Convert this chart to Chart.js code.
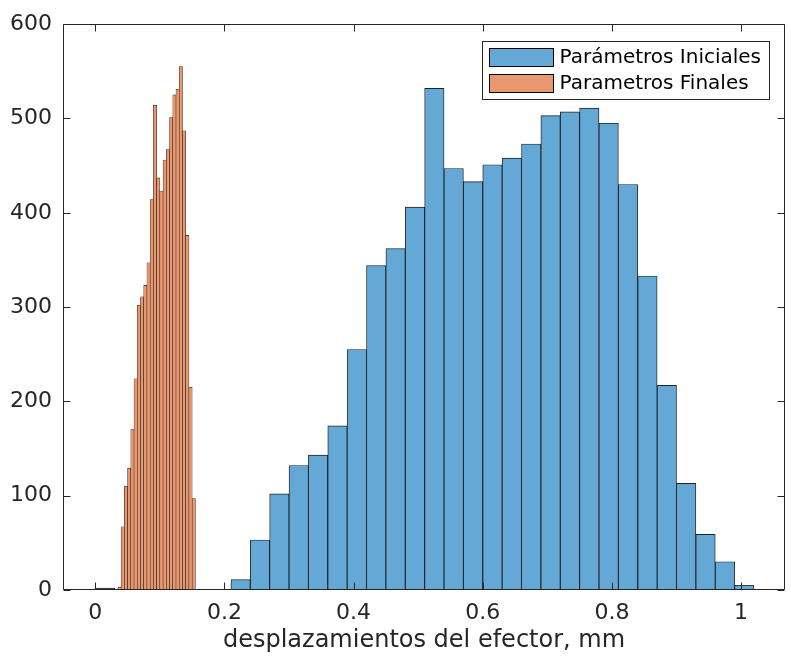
<!DOCTYPE html>
<html>
<head>
<meta charset="utf-8">
<script src="https://cdn.jsdelivr.net/npm/chart.js@4/dist/chart.umd.min.js"></script>
<style>
  html, body { margin: 0; padding: 0; background: #ffffff; }
  #wrap { width: 791px; height: 663px; }
</style>
</head>
<body>
<div id="wrap"><canvas id="c" width="791" height="663"></canvas></div>
<script>
// Histogram of end-effector displacement, before and after parameter tuning.
const initialLabel = 'Parámetros Iniciales';
const finalLabel = 'Parametros Finales';
const xTitle = 'desplazamientos del efector, mm';

// Initial parameters: bins of width 0.03 (left edges) and counts
const initialBinWidth = 0.03;
const initialEdges = [0, 0.03, 0.06, 0.09, 0.12, 0.15, 0.18, 0.21, 0.24, 0.27,
  0.30, 0.33, 0.36, 0.39, 0.42, 0.45, 0.48, 0.51, 0.54, 0.57, 0.60, 0.63, 0.66,
  0.69, 0.72, 0.75, 0.78, 0.81, 0.84, 0.87, 0.90, 0.93, 0.96, 0.99];
const initialCounts = [2, 0, 0, 0, 0, 0, 0, 11, 53, 102, 132, 143, 174, 255, 344,
  362, 406, 532, 447, 433, 451, 458, 473, 503, 507, 511, 495, 430, 333, 217, 113,
  59, 30, 5];

// Final parameters: bins of width 0.005 (left edges) and counts
const finalBinWidth = 0.005;
const finalEdges = [0.035, 0.04, 0.045, 0.05, 0.055, 0.06, 0.065, 0.07, 0.075,
  0.08, 0.085, 0.09, 0.095, 0.10, 0.105, 0.11, 0.115, 0.12, 0.125, 0.13, 0.135,
  0.14, 0.145, 0.15];
const finalCounts = [3, 67, 110, 129, 170, 224, 302, 311, 323, 347, 414, 514, 437,
  423, 456, 467, 501, 525, 531, 555, 487, 376, 215, 97];

// Axis ticks
const xTickValues = [0, 0.2, 0.4, 0.6, 0.8, 1];
const xTickLabels = ['0', '0.2', '0.4', '0.6', '0.8', '1'];
const yTickValues = [0, 100, 200, 300, 400, 500, 600];
const yTickLabels = ['0', '100', '200', '300', '400', '500', '600'];

const X_MIN = -0.05, X_MAX = 1.068;
const FONT = "'DejaVu Sans', 'Liberation Sans', sans-serif";
const AXIS_COLOR = '#262626';
const BLUE = '#64a9d6';
const ORANGE = '#e8976f';
const EDGE = 'rgba(15,15,15,0.92)';

const toPoints = (edges, counts, w) => edges.map((e, i) => ({ x: e + w / 2, y: counts[i] }));

// Box around the axes with inward tick marks on all four sides
const framePlugin = {
  id: 'frame',
  afterDatasetsDraw(chart) {
    const { ctx, chartArea: a, scales } = chart;
    const L = Math.round(a.left) + 0.5, R = Math.round(a.right) - 0.5;
    const T = Math.round(a.top) + 0.5, B = Math.round(a.bottom) - 0.5;
    const tl = 7;
    ctx.save();
    ctx.strokeStyle = AXIS_COLOR;
    ctx.lineWidth = 1;
    ctx.beginPath();
    ctx.rect(L, T, R - L, B - T);
    xTickValues.forEach(v => {
      const px = Math.round(scales.x.getPixelForValue(v)) + 0.5;
      ctx.moveTo(px, B); ctx.lineTo(px, B - tl);
      ctx.moveTo(px, T); ctx.lineTo(px, T + tl);
    });
    yTickValues.forEach(v => {
      const py = Math.round(scales.y.getPixelForValue(v)) + 0.5;
      ctx.moveTo(L, py); ctx.lineTo(L + tl, py);
      ctx.moveTo(R, py); ctx.lineTo(R - tl, py);
    });
    ctx.stroke();
    ctx.restore();
  }
};

// Boxed legend in the upper right corner of the axes
const boxLegendPlugin = {
  id: 'boxLegend',
  afterDraw(chart) {
    const { ctx, chartArea: a } = chart;
    const w = 287, h = 58;
    const x0 = Math.round(a.right - 16 - w) + 0.5;
    const y0 = Math.round(a.top + 17) + 0.5;
    ctx.save();
    ctx.fillStyle = '#ffffff';
    ctx.fillRect(x0, y0, w, h);
    ctx.strokeStyle = AXIS_COLOR;
    ctx.lineWidth = 1;
    ctx.strokeRect(x0, y0, w, h);
    ctx.font = '20px ' + FONT;
    ctx.textBaseline = 'middle';
    ctx.textAlign = 'left';
    chart.data.datasets.forEach((ds, i) => {
      const py = y0 + 7 + i * 26;
      ctx.fillStyle = ds.backgroundColor;
      ctx.fillRect(x0 + 7, py, 64, 18);
      ctx.strokeStyle = '#000000';
      ctx.strokeRect(x0 + 7, py, 64, 18);
      ctx.fillStyle = '#000000';
      ctx.fillText(ds.label, x0 + 77, py + 9.5);
    });
    ctx.restore();
  }
};

new Chart(document.getElementById('c'), {
  type: 'bar',
  data: {
    datasets: [
      {
        label: initialLabel,
        data: toPoints(initialEdges, initialCounts, initialBinWidth),
        xAxisID: 'x',
        backgroundColor: BLUE,
        borderColor: EDGE,
        borderWidth: 0.9,
        grouped: false,
        barPercentage: 1,
        categoryPercentage: 1
      },
      {
        label: finalLabel,
        data: toPoints(finalEdges, finalCounts, finalBinWidth),
        xAxisID: 'x2',
        backgroundColor: ORANGE,
        borderColor: EDGE,
        borderWidth: 0.55,
        grouped: false,
        barPercentage: 1,
        categoryPercentage: 1
      }
    ]
  },
  options: {
    responsive: false,
    animation: false,
    devicePixelRatio: 1,
    layout: { padding: { left: 0, right: 6, top: 17, bottom: 0 } },
    plugins: { legend: { display: false }, tooltip: { enabled: false } },
    scales: {
      x: {
        type: 'linear',
        position: 'bottom',
        offset: false,
        min: X_MIN,
        max: X_MAX,
        grid: { display: false, drawTicks: false, offset: false },
        border: { display: false },
        afterBuildTicks: s => { s.ticks = xTickValues.map(v => ({ value: v })); },
        afterFit: s => { s.height = 73; },
        ticks: {
          autoSkip: false,
          maxRotation: 0,
          padding: 10,
          color: AXIS_COLOR,
          font: { family: FONT, size: 22 },
          callback: (v, i) => xTickLabels[i]
        },
        title: {
          display: true,
          text: xTitle,
          color: AXIS_COLOR,
          font: { family: FONT, size: 24 },
          padding: { top: 2, bottom: 8 }
        }
      },
      x2: {
        type: 'linear',
        position: 'bottom',
        offset: false,
        min: X_MIN,
        max: X_MAX,
        grid: { offset: false },
        display: false
      },
      y: {
        type: 'linear',
        min: 0,
        max: 600,
        grid: { display: false, drawTicks: false },
        border: { display: false },
        afterBuildTicks: s => { s.ticks = yTickValues.map(v => ({ value: v })); },
        afterFit: s => { s.width = 63; },
        ticks: {
          padding: 11,
          color: AXIS_COLOR,
          font: { family: FONT, size: 22 },
          callback: (v, i) => yTickLabels[i]
        }
      }
    }
  },
  plugins: [framePlugin, boxLegendPlugin]
});
</script>
</body>
</html>
